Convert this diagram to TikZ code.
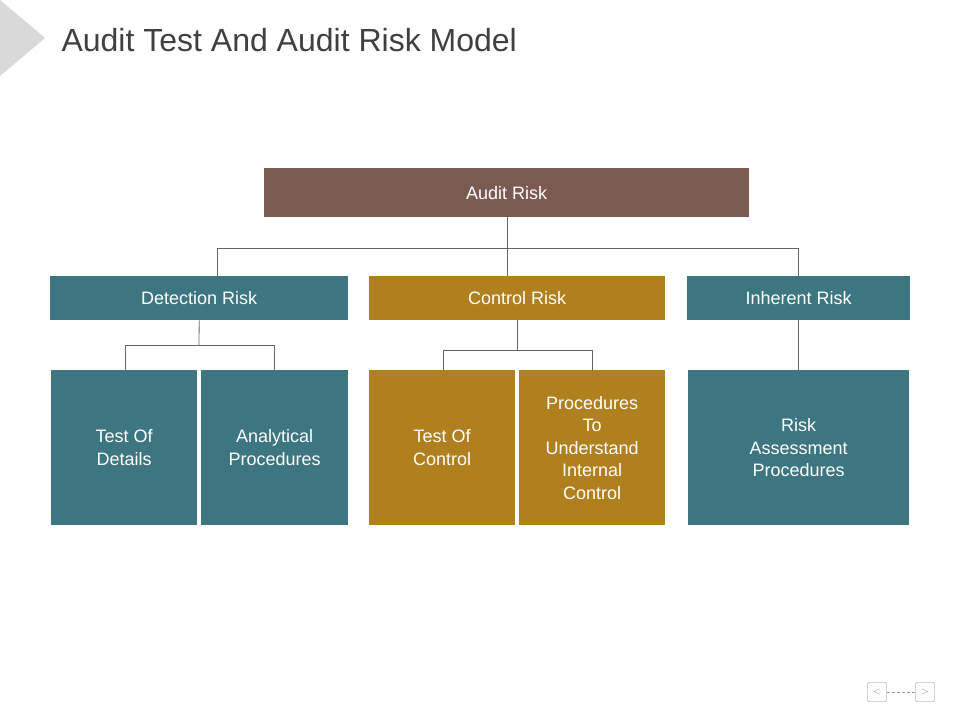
\documentclass[tikz,border=0pt]{standalone}
\usepackage{fontspec}
\setmainfont{Liberation Sans}
\definecolor{brownr}{HTML}{7B5A52}
\definecolor{teal}{HTML}{3D7680}
\definecolor{gold}{HTML}{B07F1E}
\begin{document}
\begin{tikzpicture}[x=1pt,y=-1pt,
  bx/.style={draw=none,text=white,font=\fontsize{18}{22}\selectfont,align=center,anchor=north west,inner sep=0pt},
  ln/.style={draw=black!60,line width=0.8pt}]
\useasboundingbox[fill=white] (0,0) rectangle (960,720);
\fill[black!15] (0,0) -- (45,38) -- (0,76) -- cycle;
\node[anchor=west,text=black!75,font=\fontsize{32}{36}\selectfont] (title) at (58,40) {Audit Test And Audit Risk Model};
\newcommand{\bx}[6]{\node[bx,fill=#6,minimum width=#4-#2,minimum height=#5-#3] (#1) at (#2,#3) {};}
\bx{ar}{264}{168}{749}{217}{brownr}
\bx{dr}{50}{276}{348}{320}{teal}
\bx{cr}{369}{276}{665}{320}{gold}
\bx{ir}{687}{276}{910}{320}{teal}
\bx{b1}{51}{370}{197}{525}{teal}
\bx{b2}{201}{370}{348}{525}{teal}
\bx{b3}{369}{370}{515}{525}{gold}
\bx{b4}{519}{370}{665}{525}{gold}
\bx{b5}{688}{370}{909}{525}{teal}
\foreach \n/\t in {ar/Audit Risk,dr/Detection Risk,cr/Control Risk,ir/Inherent Risk,b1/{Test Of\\Details},b2/{Analytical\\Procedures},b3/{Test Of\\Control},b4/{Procedures\\To\\Understand\\Internal\\Control},b5/{Risk\\Assessment\\Procedures}}
  \node[text=white,font=\fontsize{18}{22.5}\selectfont,align=center] at (\n.center) {\t};
\coordinate (j1) at (507,248);
\draw[ln] (507,217) -- (j1);
\draw[ln] (217,276) |- (798,248) -- (798,276);
\draw[ln] (j1) -- (507,276);
\draw[ln] (dr.south) -- (199,345);
\draw[ln] (125,370) |- (274,345) -- (274,370);
\draw[ln] (517,320) -- (517,350);
\draw[ln] (443,370) |- (592,350) -- (592,370);
\draw[ln] (798,320) -- (798,370);
\node[draw=black!45,rounded corners=2pt,minimum size=19pt,inner sep=0pt,text=black!45] (pv) at (877,692) {$<$};
\node[draw=black!45,rounded corners=2pt,minimum size=19pt,inner sep=0pt,text=black!45] (nx) at (925,692) {$>$};
\draw[black!40,densely dashed,line width=0.4pt] (pv) -- (nx);
\end{tikzpicture}
\end{document}
